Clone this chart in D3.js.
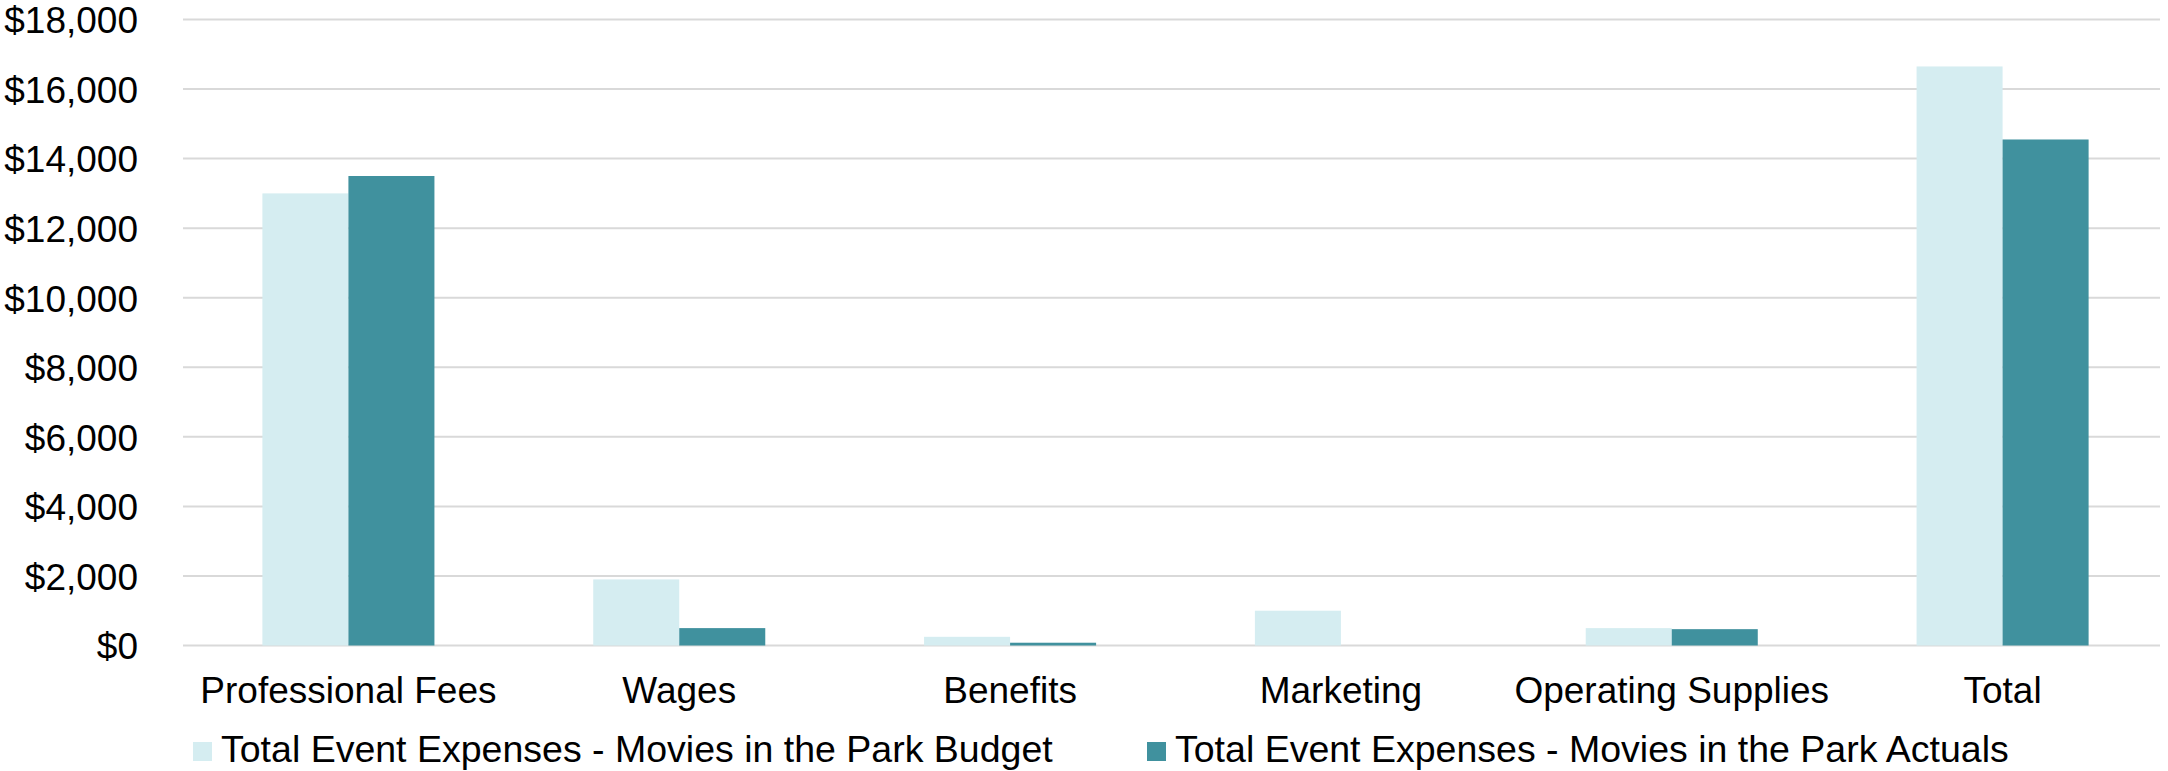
<!DOCTYPE html>
<html>
<head>
<meta charset="utf-8">
<script src="https://cdn.jsdelivr.net/npm/d3@7"></script>
<style>
  html, body { margin: 0; padding: 0; background: #ffffff; }
  svg { display: block; }
  text { font-family: "Liberation Sans", Arial, sans-serif; fill: #000; }
</style>
</head>
<body>
<svg id="chart" width="2168" height="771"></svg>
<script>
const categories = ["Professional Fees", "Wages", "Benefits", "Marketing", "Operating Supplies", "Total"];
const seriesNames = ["Total Event Expenses - Movies in the Park Budget", "Total Event Expenses - Movies in the Park Actuals"];
const budgetValues = [13000, 1900, 250, 1000, 500, 16650];
const actualValues = [13500, 500, 80, 0, 470, 14550];
const yTicks = [0, 2000, 4000, 6000, 8000, 10000, 12000, 14000, 16000, 18000];
const colors = ["#d5edf1", "#40919e"];

(function () {
const svg = d3.select("#chart");
const plotLeft = 183, plotRight = 2168, plotTop = 19.5, plotBottom = 645.5;

const x = d3.scaleBand().domain(categories).range([plotLeft, plotRight]).padding(0);
const y = d3.scaleLinear().domain([0, 18000]).range([plotBottom, plotTop]);
const barW = x.bandwidth() * 0.26;

// gridlines
svg.append("g").selectAll("line").data(yTicks).join("line")
  .attr("x1", plotLeft).attr("x2", plotRight - 8)
  .attr("y1", d => y(d)).attr("y2", d => y(d))
  .attr("stroke", "#d9d9d9").attr("stroke-width", 2);

// y axis labels
const yAxis = d3.axisLeft(y).tickValues(yTicks).tickSize(0).tickPadding(0)
  .tickFormat(d => "$" + d3.format(",")(d));
const yg = svg.append("g").attr("transform", `translate(${138},0)`).call(yAxis);
yg.select(".domain").remove();
yg.selectAll("text").attr("font-size", 37).attr("font-family", "Liberation Sans, Arial, sans-serif").attr("fill", "#000").attr("dy", "0.36em");

// bars
const data = categories.map((c, i) => ({ c, v: [budgetValues[i], actualValues[i]] }));
const groups = svg.append("g").selectAll("g").data(data).join("g");
groups.selectAll("rect").data(d => d.v.map((v, k) => ({ c: d.c, v, k }))).join("rect")
  .attr("x", d => x(d.c) + x.bandwidth() / 2 - barW + d.k * barW)
  .attr("width", barW)
  .attr("y", d => y(d.v))
  .attr("height", d => y(0) - y(d.v))
  .attr("fill", d => colors[d.k]);

// x axis labels
const xAxis = d3.axisBottom(x).tickSize(0).tickPadding(0);
const xg = svg.append("g").attr("transform", `translate(0,${703})`).call(xAxis);
xg.select(".domain").remove();
xg.selectAll("text").attr("font-size", 37).attr("font-family", "Liberation Sans, Arial, sans-serif").attr("fill", "#000").attr("dy", 0);

// legend
const legendX = [193, 1147];
const leg = svg.append("g").selectAll("g").data(seriesNames).join("g")
  .attr("transform", (d, i) => `translate(${legendX[i]},${742})`);
leg.append("rect").attr("width", 19).attr("height", 19).attr("fill", (d, i) => colors[i]);
leg.append("text").attr("x", 28).attr("y", 19.5).attr("font-size", 37.5).text(d => d);
})();
</script>
</body>
</html>
